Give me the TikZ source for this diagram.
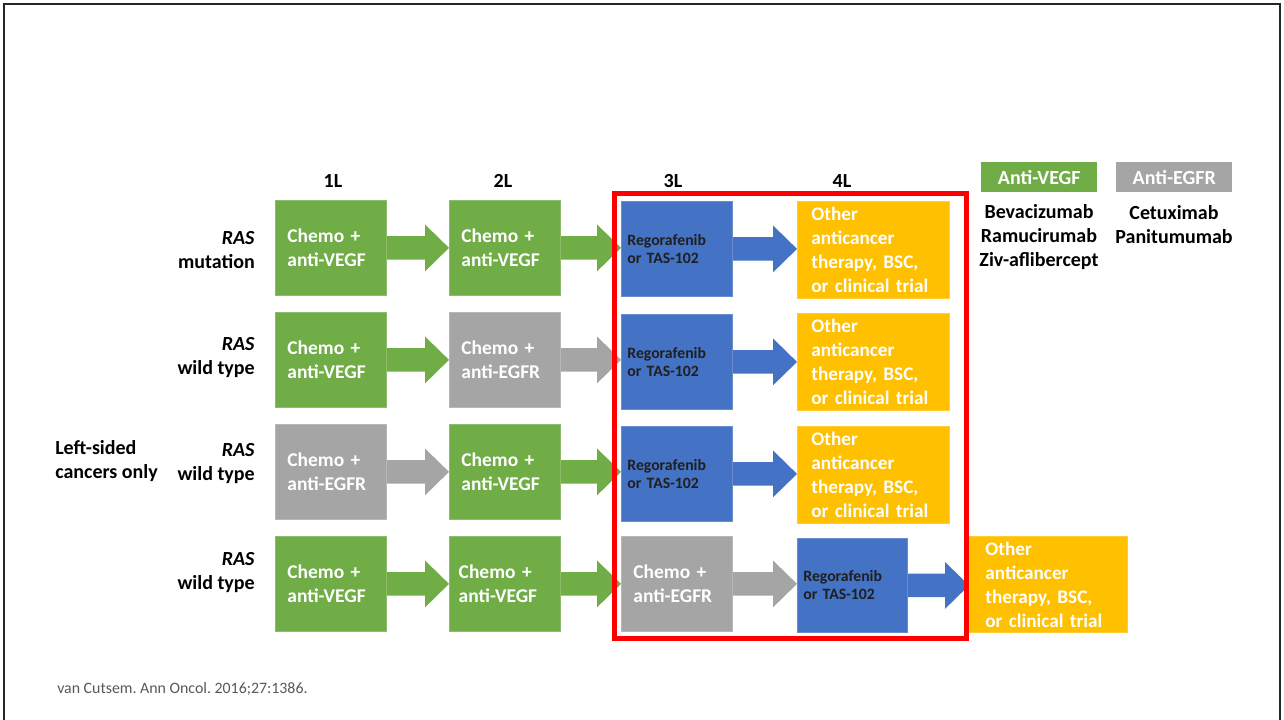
\documentclass[tikz,border=0pt]{standalone}
\usepackage{fontspec}
\setmainfont{Carlito}
\usetikzlibrary{calc,backgrounds}
\definecolor{cgreen}{HTML}{70AD47}
\definecolor{cgray}{HTML}{A5A5A5}
\definecolor{cblue}{HTML}{4472C4}
\definecolor{cyellow}{HTML}{FFC000}
\definecolor{cred}{HTML}{FF0000}
\definecolor{cfoot}{HTML}{595959}
\frenchspacing
\tikzset{
  box/.style={anchor=north west, inner ysep=0pt, inner xsep=9pt, text width=65.25pt,
    minimum height=71.25pt, align=left, font=\bfseries\fontsize{14.6}{18}\selectfont,
    text=white, fill=#1, draw=#1!80!white, line width=0.6pt},
  bluebox/.style={anchor=north west, inner ysep=0pt, inner xsep=4.5pt, text width=74.25pt,
    minimum height=71.25pt, align=left, font=\bfseries\fontsize{11.8}{13.5}\selectfont,
    text=black!88, fill=cblue, draw=cblue!80!white, line width=0.6pt},
  yelbox/.style={anchor=north west, inner ysep=0pt, inner xsep=10.5pt, text width=93pt,
    minimum height=72.75pt, align=left, font=\bfseries\fontsize{14.4}{18}\selectfont,
    text=white, fill=cyellow, draw=cyellow!80!white, line width=0.6pt},
  rowlabel/.style={anchor=east, align=right, inner sep=0pt, font=\bfseries\fontsize{15}{18}\selectfont},
  header/.style={inner sep=0pt, font=\bfseries\fontsize{15}{18}\selectfont},
  legendbox/.style={anchor=north west, minimum width=87pt, minimum height=22.5pt, inner sep=0pt,
    fill=#1, text=white, font=\bfseries\fontsize{15}{18}\selectfont},
  legendtext/.style={align=center, inner sep=0pt, font=\bfseries\fontsize{15}{18}\selectfont},
  fat/.style={to path={let \p1=(\tikztostart), \p2=(\tikztotarget) in
    (\x1,\y1+8.8pt) -- (\x2-18pt,\y1+8.8pt) -- (\x2-18pt,\y1+17.6pt) -- (\x2,\y1)
    -- (\x2-18pt,\y1-17.6pt) -- (\x2-18pt,\y1-8.8pt) -- (\x1,\y1-8.8pt) -- cycle}}
}
\begin{document}
\begin{tikzpicture}[x=0.75pt,y=-0.75pt]
\useasboundingbox (0,0) rectangle (1284,720);
% frame
\draw[line width=1.5pt, black!85] (4,721) -- (4,4) -- (1280,4) -- (1280,721);

% headers
\node[header] (h1) at (333,181) {1L};
\node[header] (h2) at (503,181) {2L};
\node[header] (h3) at (673,181) {3L};
\node[header] (h4) at (842,181) {4L};

% row labels
\node[rowlabel] (r1) at (255,250) {\textit{RAS}\\mutation};
\node[rowlabel] (r2) at (255,358) {\textit{RAS}\\wild type};
\node[rowlabel] (r3) at (255,464) {\textit{RAS}\\wild type};
\node[rowlabel] (r4) at (255,573) {\textit{RAS}\\wild type};
\node[rowlabel, anchor=west, align=left] (left) at (55,461) {Left-sided\\cancers only};

% row 1
\node[box=cgreen] (g11) at (275,200) {Chemo +\\anti-VEGF};
\node[box=cgreen] (g12) at (449,200) {Chemo +\\anti-VEGF};
\node[bluebox] (b13) at (621,201) {Regorafenib\\or TAS-102};
\node[yelbox] (y14) at (797,201) {Other\\anticancer\\therapy, BSC,\\or clinical trial};

% row 2
\node[box=cgreen] (g21) at (275,312) {Chemo +\\anti-VEGF};
\node[box=cgray] (x22) at (449,312) {Chemo +\\anti-EGFR};
\node[bluebox] (b23) at (621,314) {Regorafenib\\or TAS-102};
\node[yelbox] (y24) at (797,313) {Other\\anticancer\\therapy, BSC,\\or clinical trial};

% row 3
\node[box=cgray] (x31) at (275,424) {Chemo +\\anti-EGFR};
\node[box=cgreen] (g32) at (449,424) {Chemo +\\anti-VEGF};
\node[bluebox] (b33) at (621,426) {Regorafenib\\or TAS-102};
\node[yelbox] (y34) at (797,426) {Other\\anticancer\\therapy, BSC,\\or clinical trial};

% row 4
\node[box=cgreen] (g41) at (275,536) {Chemo +\\anti-VEGF};
\node[box=cgreen, inner xsep=7pt, text width=69.25pt] (g42) at (449,536) {Chemo +\\anti-VEGF};
\node[box=cgray] (x43) at (621,536) {Chemo +\\anti-EGFR};
\node[bluebox, text width=73.5pt, minimum height=70.5pt] (b44) at (797,538) {Regorafenib\\or TAS-102};
\node[yelbox, inner xsep=12pt, text width=94.5pt, minimum height=72pt] (y45) at (969,536) {Other\\anticancer\\therapy, BSC,\\or clinical trial};

% arrows
\begin{scope}[on background layer]
\fill[white] (0,0) rectangle (1284,720);
\fill[cgreen] (g11.east) to[fat] (g12.west);
\fill[cgreen] (g12.east) to[fat] (b13.west);
\fill[cblue] (b13.east) to[fat] (y14.west);
\fill[cgreen] (g21.east) to[fat] (x22.west);
\fill[cgray] (x22.east) to[fat] (b23.west);
\fill[cblue] (b23.east) to[fat] (y24.west);
\fill[cgray] (x31.east) to[fat] (g32.west);
\fill[cgreen] (g32.east) to[fat] (b33.west);
\fill[cblue] (b33.east) to[fat] (y34.west);
\fill[cgreen] (g41.east) to[fat] (g42.west);
\fill[cgreen] (g42.east) to[fat] (x43.west);
\fill[cgray] (x43.east) to[fat] (b44.west);
\fill[cblue] (b44.east) to[fat] (y45.west);
\end{scope}

% highlight
\draw[cred, line width=3.75pt] (614.5,194) rectangle (966.5,638);

% legend
\node[legendbox=cgreen] (lv) at (981,162) {Anti-VEGF};
\node[legendbox=cgray] (le) at (1116,162) {Anti-EGFR};
\node[legendtext] (lvt) at (1039,237) {Bevacizumab\\Ramucirumab\\Ziv-aflibercept};
\node[legendtext] (let) at (1174,225) {Cetuximab\\Panitumumab};

% footnote
\node[anchor=west, inner sep=0pt, text=cfoot, font=\fontsize{11.9}{14}\selectfont] (foot) at (57,689) {van Cutsem. Ann Oncol. 2016;27:1386.};
\end{tikzpicture}
\end{document}
